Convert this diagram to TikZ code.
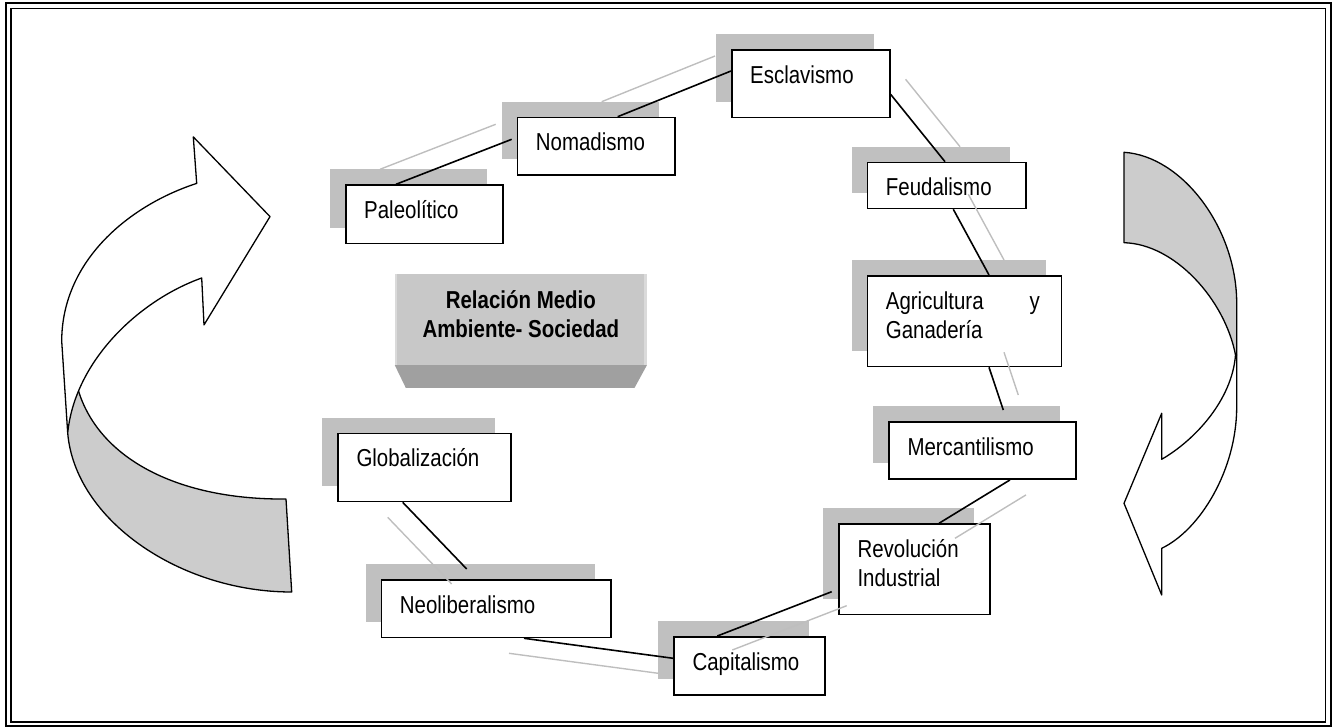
\documentclass[tikz,border=0pt]{standalone}
\usepackage{fontspec}
\setmainfont{Liberation Sans}[FakeStretch=0.835]
\usetikzlibrary{calc}
\definecolor{shadegray}{RGB}{192,192,192}
\definecolor{linkgray}{RGB}{190,190,190}
\definecolor{bandgray}{RGB}{204,204,204}
\definecolor{facegray}{RGB}{200,200,200}
\definecolor{facelight}{RGB}{218,218,218}
\definecolor{bevelgray}{RGB}{160,160,160}
\tikzset{
  erabox/.style={draw=black, line width=1.6pt, fill=white, anchor=north west, inner sep=0pt},
  eralabel/.style={anchor=base west, inner sep=0pt, text width=210pt, align=left,
    font=\fontsize{24.5}{29}\selectfont},
  erashadow/.style={fill=shadegray},
  link/.style={draw=black, line width=1.6pt},
  link-shade/.style={draw=linkgray, line width=1.4pt},
  ribbon/.style={draw=black, line width=1.3pt, line join=round},
  hub/.style={fill=facegray, minimum width=251.7pt, minimum height=90.7pt, inner sep=0pt},
  hub-text/.style={inner sep=0pt, align=center, anchor=base,
    font=\fontsize{24.5}{29}\selectfont\bfseries}
}
\newcommand{\eralink}[3]{%
  \draw[link-shade] ($(#1)+(#3)$) -- ($(#2)+(#3)$);
  \draw[link] (#1) -- (#2);
}

\begin{document}
\begin{tikzpicture}[x=1pt,y=-1pt]
  \useasboundingbox (0,0) rectangle (1335,727);

  % double frame
  \draw[line width=2pt] (5.5,3) rectangle (1331,725.5);
  \draw[line width=1.6pt] (11,8.5) rectangle (1325.5,722);

  % left ribbon arrow
  \fill[bandgray] (67.7,433) .. controls (75,520) and (180,592) .. (291.7,592) -- (286,499)
    .. controls (180,500) and (100,460) .. (78.5,391) .. controls (74,401) and (69,415) .. (67.7,433);
  \draw[ribbon] (67.7,433) .. controls (75,520) and (180,592) .. (291.7,592) -- (286,499)
    .. controls (180,500) and (100,460) .. (78.5,391);
  \filldraw[ribbon, fill=white] (270,216.6) -- (193.3,136.9) -- (196.7,183.4)
    .. controls (130,205) and (62,260) .. (61.7,341) -- (67.7,433)
    .. controls (75,360) and (140,300) .. (201.7,278) -- (204,324.9) -- cycle;

  % right ribbon arrow
  \filldraw[ribbon, fill=bandgray] (1124,152.3) .. controls (1182,156) and (1236.7,228) .. (1236.7,303.3)
    -- (1236.7,355) -- (1235.5,355) .. controls (1225,300) and (1175,244) .. (1124,242.7) -- cycle;
  \filldraw[ribbon, fill=white] (1235.5,355) -- (1236.7,355) -- (1236.7,406.7)
    .. controls (1236.7,470) and (1200,530) .. (1161.7,548.3) -- (1161.7,595) -- (1124,503.3)
    -- (1161.7,413.3) -- (1161.7,459.3) .. controls (1195,440) and (1232,400) .. (1235.5,355) -- cycle;

  % central block
  \node[hub] (hub) at (520.85,319.65) {};
  \fill[facelight] (hub.north west) rectangle ($(hub.south west)+(2.5,0)$);
  \fill[facelight] (hub.north east) rectangle ($(hub.south east)+(-2.5,0)$);
  \fill[bevelgray] (hub.south west) -- (hub.south east) -- ($(hub.south east)+(-12.4,22.7)$)
    -- ($(hub.south west)+(11,22.7)$) -- cycle;
  \node[hub-text] (hub-t) at ($(hub.north)+(0,63)$) {Relación Medio\\Ambiente- Sociedad};

  % eras
  \foreach \n/\x/\y/\bw/\bh/\txt in {
      paleo/345/184.3/157.3/58.4/Paleolítico,
      nomad/516.7/116.7/157.3/57.3/Nomadismo,
      escla/731/49.3/158/67.4/Esclavismo,
      feuda/866.7/161.7/158.3/46/Feudalismo,
      agric/866.7/275/194/90.7/{\makebox[154pt][l]{Agricultura\hfill y}\\Ganadería},
      merca/888.3/421/186.7/57.3/Mercantilismo,
      revol/838.3/523.3/150.7/90.4/{Revolución\\Industrial},
      capit/673.3/636/151/58/Capitalismo,
      neoli/380.7/579/229.3/57.7/Neoliberalismo,
      globa/337.3/432.7/172.7/68/Globalización}{
    \fill[erashadow] (\x-15,\y-15) rectangle ++(\bw,\bh);
    \node[erabox, minimum width=\bw*1pt, minimum height=\bh*1pt] (\n) at (\x,\y) {};
    \node[eralabel] (\n-t) at ($(\n.north west)+(19,34)$) {\txt};
  }

  % links
  \coordinate (l1a) at ($(paleo.north west)+(51,0)$);
  \coordinate (l1b) at ($(nomad.north west)+(-5,22.6)$);
  \coordinate (l2a) at ($(nomad.north west)+(101,0)$);
  \coordinate (l2b) at ($(escla.north west)+(0,21.7)$);
  \coordinate (l3a) at ($(escla.north east)+(0,45)$);
  \coordinate (l3b) at ($(feuda.north west)+(78.3,0)$);
  \coordinate (l4a) at ($(feuda.south west)+(86.6,0)$);
  \coordinate (l4b) at ($(agric.north west)+(122.3,0)$);
  \coordinate (l5a) at ($(agric.south west)+(122.3,0)$);
  \coordinate (l5b) at ($(merca.north west)+(115,-11)$);
  \coordinate (l6a) at ($(merca.south west)+(121.7,0)$);
  \coordinate (l6b) at ($(revol.north west)+(100.7,0)$);
  \coordinate (l7a) at ($(revol.north west)+(-6.6,68.4)$);
  \coordinate (l7b) at ($(capit.north west)+(44,0)$);
  \coordinate (l8a) at ($(capit.north west)+(0,22.3)$);
  \coordinate (l8b) at ($(neoli.south west)+(143.3,0)$);
  \coordinate (l9a) at ($(neoli.north west)+(86,-10)$);
  \coordinate (l9b) at ($(globa.south west)+(65.4,0)$);

  \eralink{l1a}{l1b}{-16,-15}
  \eralink{l2a}{l2b}{-16,-15}
  \eralink{l3a}{l3b}{15,-15}
  \eralink{l4a}{l4b}{15,-15}
  \eralink{l5a}{l5b}{15,-15}
  \eralink{l6a}{l6b}{16,15}
  \eralink{l7a}{l7b}{15,14}
  \eralink{l8a}{l8b}{-15,15}
  \eralink{l9a}{l9b}{-15,15}
\end{tikzpicture}
\end{document}
